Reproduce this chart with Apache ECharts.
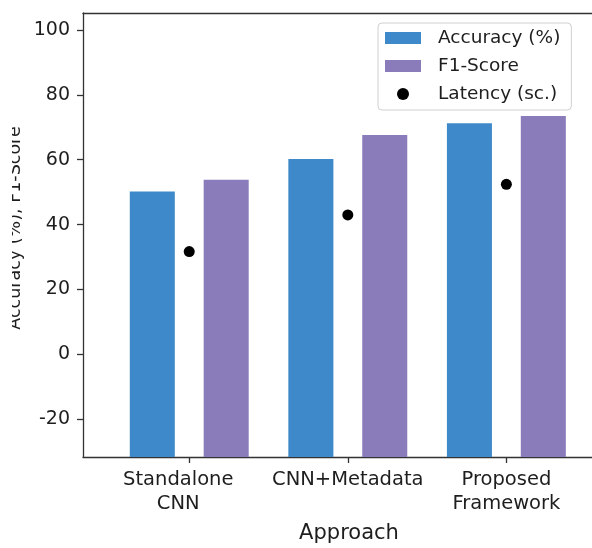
<!DOCTYPE html>
<html>
<head>
<meta charset="utf-8">
<script src="https://cdn.jsdelivr.net/npm/echarts@6/dist/echarts.min.js"></script>
<style>html,body{margin:0;padding:0;background:#fff}#c{width:592px;height:548px}</style>
</head>
<body>
<div id="c"></div>
<script>
const categories = ['Standalone\nCNN', 'CNN+Metadata', 'Proposed\nFramework'];
const accuracy = [50.2, 60.2, 71.2];
const f1Score = [53.8, 67.6, 73.5];
const latency = [31.7, 43.0, 52.4];
const yTicks = [-20, 0, 20, 40, 60, 80, 100];
const catPos = [0, 1, 2];

const FONT = 'DejaVu Sans';
const Y_MIN = -31.6, Y_MAX = 105.2;
const X_MIN = -0.67, X_MAX = 2.54;
const BAR_W = 0.284;   // bar width in category units
const BAR_OFF = 0.233; // half distance between the two bar centres, category units

const chart = echarts.init(document.getElementById('c'), null, {renderer: 'canvas'});
const pair = (arr) => arr.map((v, i) => [catPos[i], v]);

function barRenderer(side) {
  return function (params, api) {
    const x = api.value(0), v = api.value(1);
    const cx = x + side * BAR_OFF;
    const tl = api.coord([cx - BAR_W / 2, v]);
    const br = api.coord([cx + BAR_W / 2, Y_MIN]);
    return {
      type: 'rect',
      shape: {x: tl[0], y: tl[1], width: br[0] - tl[0], height: br[1] - tl[1]},
      style: {fill: api.visual('color')}
    };
  };
}

const axisLineStyle = {color: '#333', width: 1.3};
const labelStyle = {fontFamily: FONT, fontSize: 19.5, lineHeight: 24, color: '#1e1e1e'};

chart.setOption({
  backgroundColor: '#ffffff',
  animation: false,
  grid: {left: 83, top: 13, right: 0, bottom: 91},
  xAxis: [{
    type: 'value', min: X_MIN, max: X_MAX, position: 'bottom',
    splitLine: {show: false},
    axisLine: {show: true, onZero: false, lineStyle: axisLineStyle},
    axisTick: {show: true, customValues: catPos, length: 6, lineStyle: axisLineStyle},
    axisLabel: {show: true, customValues: catPos, margin: 11, color: '#1e1e1e', fontFamily: FONT, fontSize: 19.5, lineHeight: 24,
      formatter: (v) => {
        const i = Math.round(v);
        const style = i === 0 ? 'first' : 'other';
        return categories[i].split('\n').map(s => '{' + style + '|' + s + '}').join('\n');
      },
      rich: {
        first: Object.assign({padding: [0, 22, 0, 0]}, labelStyle),
        other: Object.assign({}, labelStyle)
      }}
  }, {
    type: 'value', min: X_MIN, max: X_MAX, position: 'top',
    splitLine: {show: false},
    axisLine: {show: true, onZero: false, lineStyle: axisLineStyle},
    axisTick: {show: false}, axisLabel: {show: false}
  }],
  yAxis: {
    type: 'value', min: Y_MIN, max: Y_MAX,
    splitLine: {show: false},
    axisLine: {show: true, onZero: false, lineStyle: axisLineStyle},
    axisTick: {show: true, customValues: yTicks, length: 6, lineStyle: axisLineStyle},
    axisLabel: {show: true, customValues: yTicks, margin: 13, color: '#1e1e1e', fontFamily: FONT, fontSize: 19}
  },
  legend: {
    orient: 'vertical', left: 378, top: 23,
    itemWidth: 36, itemHeight: 12, itemGap: 8,
    padding: [5, 11, 6, 7],
    backgroundColor: '#fff', borderColor: '#d0d0d0', borderWidth: 1, borderRadius: 4,
    textStyle: {fontFamily: FONT, fontSize: 18.5, color: '#1e1e1e', lineHeight: 20, padding: [0, 0, 0, 12]},
    data: [
      {name: 'Accuracy (%)', icon: 'rect', itemStyle: {color: '#3e89c9'}},
      {name: 'F1-Score', icon: 'rect', itemStyle: {color: '#8a7cbb'}},
      {name: 'Latency (sc.)', icon: 'circle', itemStyle: {color: '#000'}}
    ]
  },
  series: [{
    name: 'Accuracy (%)', type: 'custom', xAxisIndex: 0,
    data: pair(accuracy), renderItem: barRenderer(-1),
    itemStyle: {color: '#3e89c9'}, encode: {x: 0, y: 1}, clip: true
  }, {
    name: 'F1-Score', type: 'custom', xAxisIndex: 0,
    data: pair(f1Score), renderItem: barRenderer(1),
    itemStyle: {color: '#8a7cbb'}, encode: {x: 0, y: 1}, clip: true
  }, {
    name: 'Latency (sc.)', type: 'scatter', xAxisIndex: 0,
    data: pair(latency), symbol: 'circle', symbolSize: 11,
    itemStyle: {color: '#000', opacity: 1}, z: 5
  }],
  graphic: [{
    type: 'text', x: 349, y: 534,
    style: {text: 'Approach', fontFamily: FONT, fontSize: 21, fill: '#1e1e1e', align: 'center', verticalAlign: 'middle'}
  }, {
    type: 'text', rotation: Math.PI / 2,
    x: 24, y: 228,
    style: {text: 'Accuracy (%), F1-Score', fontFamily: FONT, fontSize: 17.5, fill: '#1e1e1e', align: 'center', verticalAlign: 'bottom'},
    z: 10
  }, {
    type: 'rect', shape: {x: 0, y: 0, width: 12, height: 548},
    style: {fill: '#fff'}, z: 20
  }]
});
</script>
</body>
</html>
